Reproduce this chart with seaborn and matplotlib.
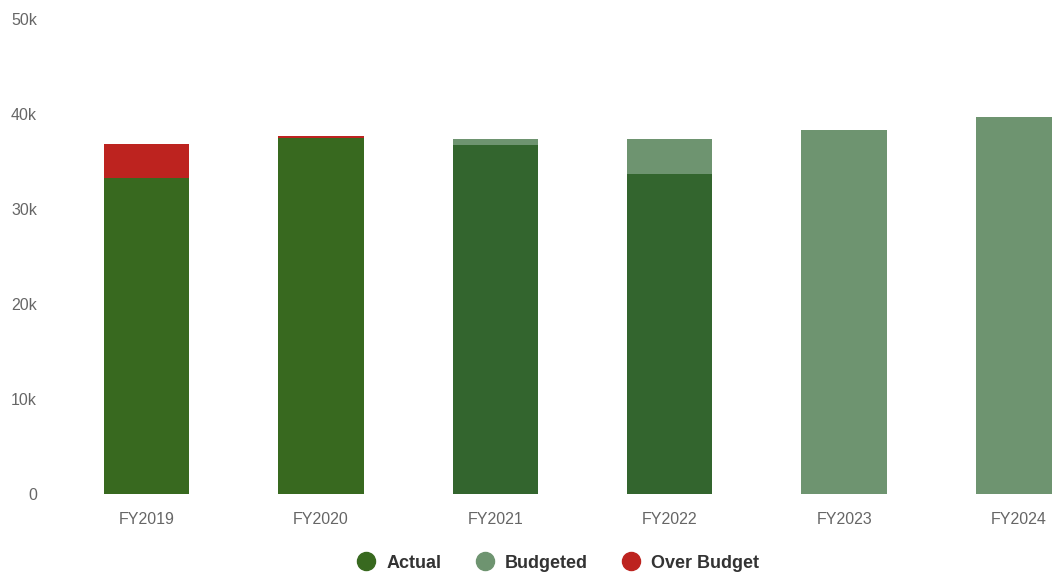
import numpy as np
import pandas as pd
import matplotlib
matplotlib.use("Agg")
import matplotlib.pyplot as plt
from matplotlib.lines import Line2D
from matplotlib.ticker import FuncFormatter
import seaborn as sns

years = ["FY2019", "FY2020", "FY2021", "FY2022", "FY2023", "FY2024"]
actual = [33.26, 37.50, 36.74, 33.68, 0.0, 0.0]          # thousands
budgeted_extra = [0.0, 0.0, 0.63, 3.69, 38.32, 39.68]   # budget above actual
over_budget = [3.58, 0.18, 0.0, 0.0, 0.0, 0.0]

actual_colors = ["#38691f", "#38691f", "#33652e", "#33652e", "#33652e", "#33652e"]
c_budget = "#6e9470"
c_over = "#bd231f"
c_actual = "#38691f"

df = pd.DataFrame({"year": years, "actual": actual,
                   "budget": budgeted_extra, "over": over_budget})

sns.set_theme(style="white")
plt.rcParams["font.family"] = ["Liberation Sans", "DejaVu Sans"]

fig = plt.figure(figsize=(10.52, 5.73), dpi=100)
ax = fig.add_axes([0.0564, 0.1379, 0.9947, 0.829])

w = 0.49
bar_kw = dict(width=w, saturation=1, linewidth=0, edgecolor="none", ax=ax)
sns.barplot(data=df, x="year", y="actual", hue="year", palette=actual_colors,
            legend=False, **bar_kw)
sns.barplot(data=df, x="year", y="budget", color=c_budget, bottom=df["actual"],
            **bar_kw)
sns.barplot(data=df, x="year", y="over", color=c_over, bottom=df["actual"],
            **bar_kw)

ax.set_xlim(-0.5, 5.5)
ax.set_ylim(0, 50)
ax.set_yticks([0, 10, 20, 30, 40, 50])
ax.yaxis.set_major_formatter(FuncFormatter(lambda v, p: "0" if v == 0 else f"{v:.0f}k"))
ax.set_xlabel("")
ax.set_ylabel("")
ax.grid(False)
for s in ax.spines.values():
    s.set_visible(False)
ax.tick_params(axis="y", length=0, pad=16, labelsize=11.5, labelcolor="#666666")
ax.tick_params(axis="x", length=0, pad=13, labelsize=11.5, labelcolor="#666666")

handles = [Line2D([], [], marker="o", linestyle="", markersize=13, color=c)
           for c in (c_actual, c_budget, c_over)]
leg = fig.legend(handles, ["Actual", "Budgeted", "Over Budget"], ncol=3,
                 loc="center", bbox_to_anchor=(553.5 / 1052, 1 - 563 / 573),
                 frameon=False, handletextpad=0.1, columnspacing=1.4,
                 prop={"weight": "bold", "size": 13})
for t in leg.get_texts():
    t.set_color("#333333")

fig.savefig("out.png", dpi=100)
